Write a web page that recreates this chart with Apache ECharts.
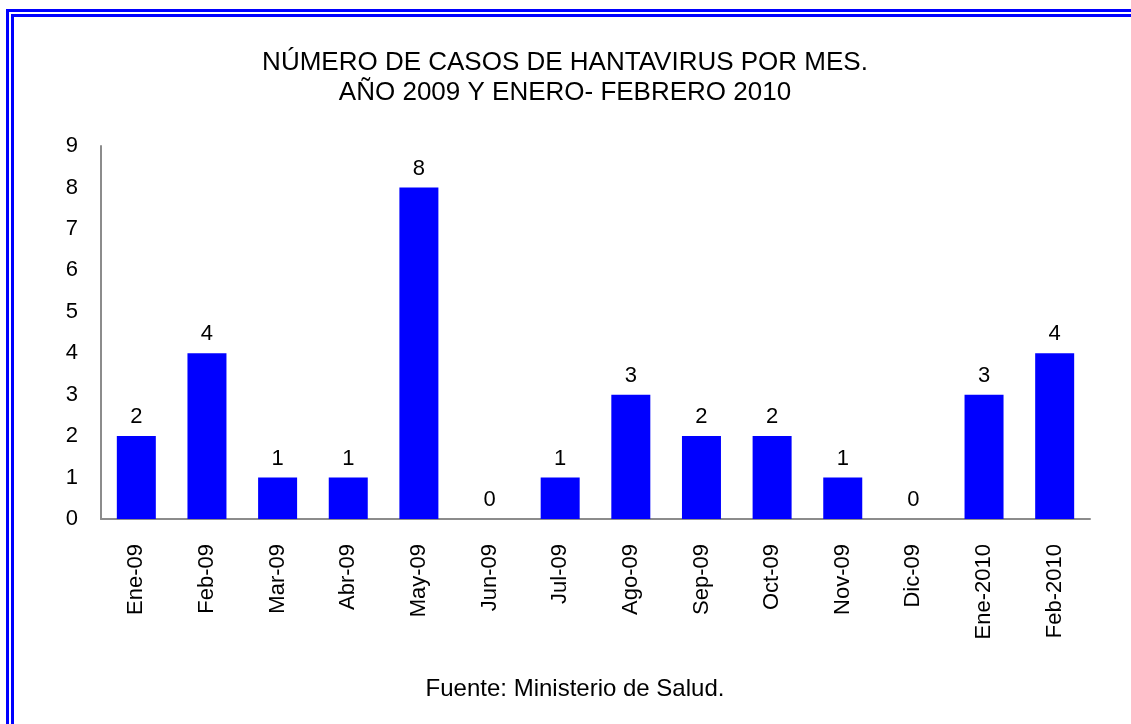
<!DOCTYPE html>
<html>
<head>
<meta charset="utf-8">
<script src="https://cdn.jsdelivr.net/npm/echarts@6/dist/echarts.min.js"></script>
<style>
  html, body { margin: 0; padding: 0; background: #fff; }
  #chart { width: 1131px; height: 724px; }
</style>
</head>
<body>
<div id="chart"></div>
<script>
// datos: casos de hantavirus por mes
var meses = ['Ene-09', 'Feb-09', 'Mar-09', 'Abr-09', 'May-09', 'Jun-09', 'Jul-09',
  'Ago-09', 'Sep-09', 'Oct-09', 'Nov-09', 'Dic-09', 'Ene-2010', 'Feb-2010'];
var casos = [2, 4, 1, 1, 8, 0, 1, 3, 2, 2, 1, 0, 3, 4];
var yMax = 9;

var FONT = '"Liberation Sans", Arial, sans-serif';
var chart = echarts.init(document.getElementById('chart'));

var option = {
  backgroundColor: '#fff',
  animation: false,
  title: [{
    text: 'NÚMERO DE CASOS DE HANTAVIRUS POR MES.\nAÑO 2009 Y ENERO- FEBRERO 2010',
    left: 560,
    top: 43,
    textAlign: 'center',
    textStyle: { fontFamily: FONT, fontSize: 26, fontWeight: 'normal', color: '#000', lineHeight: 30 }
  }, {
    text: 'Fuente: Ministerio de Salud.',
    left: 570,
    top: 672,
    textAlign: 'center',
    textStyle: { fontFamily: FONT, fontSize: 24, fontWeight: 'normal', color: '#000' }
  }],
  grid: { left: 101, right: 41, top: 146, bottom: 205, containLabel: false },
  xAxis: {
    type: 'category',
    data: meses,
    axisLine: { lineStyle: { color: '#8c8c8c', width: 2 } },
    axisTick: { show: false },
    axisLabel: { rotate: 90, margin: 25, fontFamily: FONT, fontSize: 22, color: '#000' }
  },
  yAxis: {
    type: 'value',
    min: 0,
    max: yMax,
    interval: 1,
    axisLine: { show: true, lineStyle: { color: '#8c8c8c', width: 2 } },
    axisTick: { show: false },
    splitLine: { show: false },
    axisLabel: { margin: 23, fontFamily: FONT, fontSize: 22, color: '#000' }
  },
  series: [{
    type: 'bar',
    data: casos,
    barWidth: 39,
    itemStyle: { color: '#0000ff' },
    label: { show: true, position: 'top', distance: 8, fontFamily: FONT, fontSize: 22, color: '#000' }
  }],
  graphic: [
    { type: 'rect', silent: true, shape: { x: 7.5, y: 10.5, width: 3000, height: 3000 },
      style: { fill: 'none', stroke: '#0000ff', lineWidth: 3 } },
    { type: 'rect', silent: true, shape: { x: 12.5, y: 15.5, width: 3000, height: 3000 },
      style: { fill: 'none', stroke: '#0000ff', lineWidth: 3 } }
  ]
};

chart.setOption(option);
</script>
</body>
</html>
